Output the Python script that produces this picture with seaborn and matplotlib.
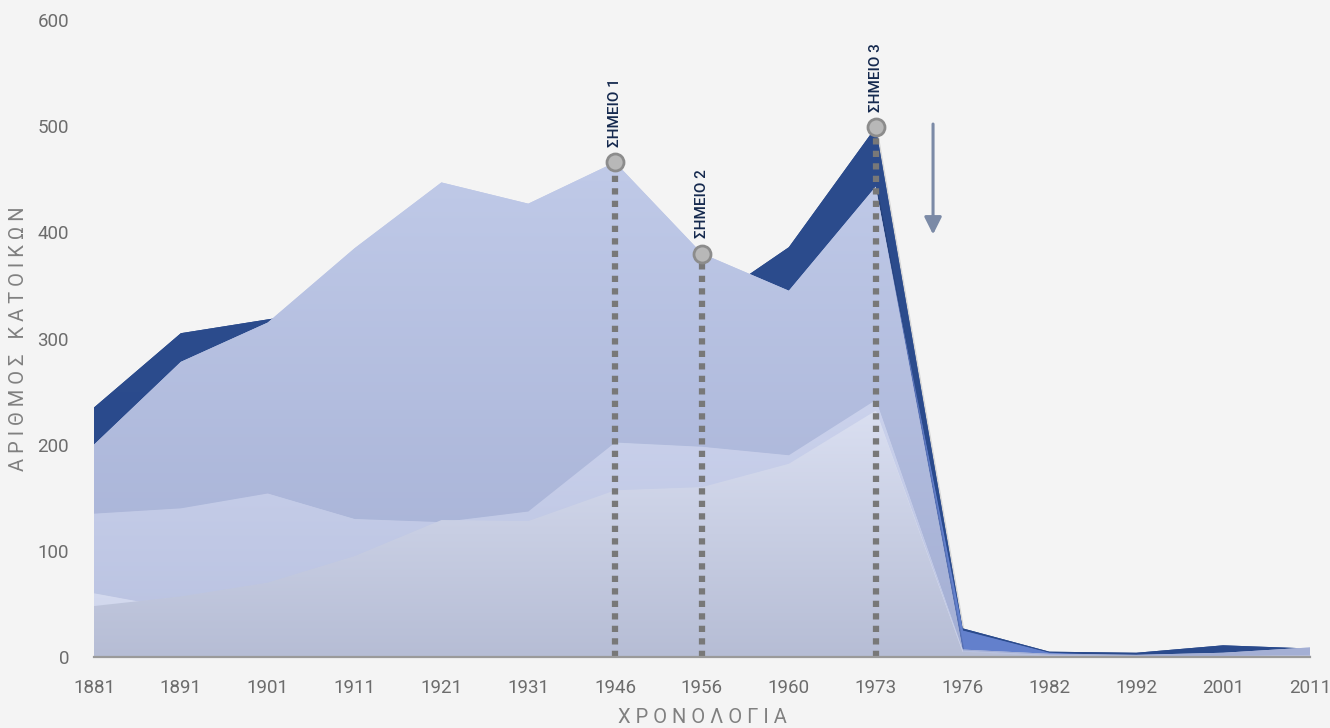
import numpy as np
import pandas as pd
import matplotlib.pyplot as plt
import matplotlib.colors as mcolors
import matplotlib.patheffects as pe
import seaborn as sns

# census years (categorical axis)
years = ["1881", "1891", "1901", "1911", "1921", "1931", "1946", "1956",
         "1960", "1973", "1976", "1982", "1992", "2001", "2011"]

# overlapping area series, back to front
dark_series = [235, 305, 318, 330, 340, 330, 320, 330, 386, 499, 27, 5, 4, 11, 8]
mid_series = [0, 0, 0, 0, 0, 0, 0, 100, 300, 440, 25, 4, 1, 1, 1]
light_series = [200, 278, 315, 385, 447, 427, 466, 380, 345, 443, 7, 3, 2, 4, 9]
band_series = [135, 140, 154, 130, 127, 137, 202, 198, 190, 242, 6, 2, 1, 1, 2]
low_a_series = [60, 45, 40, 40, 40, 40, 40, 40, 40, 40, 3, 1, 1, 1, 1]
low_b_series = [48, 57, 70, 95, 129, 128, 157, 160, 182, 232, 5, 1, 1, 1, 1]

# annotated points
point_labels = ["ΣΗΜΕΙΟ 1", "ΣΗΜΕΙΟ 2", "ΣΗΜΕΙΟ 3"]
point_years = ["1946", "1956", "1973"]

BG = "#f4f4f4"
sns.set_theme(style="white", rc={"axes.facecolor": BG, "figure.facecolor": BG})
plt.rcParams["font.family"] = ["Roboto", "DejaVu Sans"]

fig = plt.figure(figsize=(13.3, 7.28), dpi=100)
ax = fig.add_axes([94 / 1330, 71 / 728, 1216 / 1330, 637 / 728])

x = np.arange(len(years))

layers = [
    (dark_series, "#2c4c8d", "#2a4a8c", 1, True),
    (mid_series, "#6683cf", "#6380cc", 2, False),
    (light_series, "#c0cae8", "#a4afd4", 3, True),
    (band_series, "#cbd2ec", "#b8c1e0", 4, False),
    (low_a_series, "#d4daef", "#c8cee6", 5, False),
    (low_b_series, "#dadff1", "#b6bdd5", 6, False),
]

for vals, top_c, bot_c, z, shadow in layers:
    vals = np.asarray(vals, dtype=float)
    poly = ax.fill_between(x, 0, vals, color=top_c, lw=0, zorder=z)
    if shadow:
        poly.set_path_effects([pe.SimplePatchShadow(offset=(1.5, -2), shadow_rgbFace="#000000",
                                                    alpha=0.12), pe.Normal()])
    cmap = mcolors.LinearSegmentedColormap.from_list("g", [bot_c, top_c])
    grad = np.linspace(0, 1, 256).reshape(-1, 1)
    im = ax.imshow(grad, cmap=cmap, aspect="auto", origin="lower",
                   extent=(x[0], x[-1], 0, vals.max()), zorder=z + 0.5,
                   interpolation="bilinear")
    im.set_clip_path(poly.get_paths()[0], transform=ax.transData)

# dotted guide lines and markers
pos = [years.index(y) for y in point_years]
pvals = [light_series[pos[0]], light_series[pos[1]], dark_series[pos[2]]]
ax.vlines(pos, 0, pvals, colors="#787878", lw=4.5, linestyles=(0, (1, 1)), zorder=10)
sns.scatterplot(x=pos, y=pvals, s=150, color="#b8b8b8", edgecolor="#8c8c8c",
                linewidth=2, zorder=11, ax=ax, legend=False)
for p, v, lab in zip(pos, pvals, point_labels):
    ax.annotate(lab, (p, v), xytext=(0, 11), textcoords="offset points",
                rotation=90, ha="center", va="bottom", fontsize=11,
                fontweight="medium", color="#15294e", zorder=12)

# downward arrow
ax.annotate("", xy=(9.66, 398), xytext=(9.66, 502),
            arrowprops=dict(arrowstyle="-|>", color="#7b8aa6", lw=2.2,
                            mutation_scale=26, shrinkA=0, shrinkB=0), zorder=12)

ax.set_xlim(x[0], x[-1])
ax.set_ylim(0, 600)
ax.set_xticks(x)
ax.set_xticklabels(years)
ax.set_yticks(range(0, 601, 100))
ax.tick_params(axis="both", length=0, labelsize=13.5, colors="#6c6c6c")
ax.tick_params(axis="x", pad=16)
ax.tick_params(axis="y", pad=18)

ax.set_xlabel("Χ Ρ Ο Ν Ο Λ Ο Γ Ι Α", fontsize=14.5, color="#808080", va="top")
ax.set_ylabel("Α Ρ Ι Θ Μ Ο Σ   Κ Α Τ Ο Ι Κ Ω Ν", fontsize=14.5, color="#808080")
ax.xaxis.set_label_coords(0.5, -0.08)
ax.yaxis.set_label_coords(-0.054, 0.5)

for s in ["top", "right", "left"]:
    ax.spines[s].set_visible(False)
ax.spines["bottom"].set_color("#9a9a9a")
ax.spines["bottom"].set_linewidth(1.6)
ax.spines["bottom"].set_zorder(13)

fig.savefig("out.png", dpi=100, facecolor=BG)
